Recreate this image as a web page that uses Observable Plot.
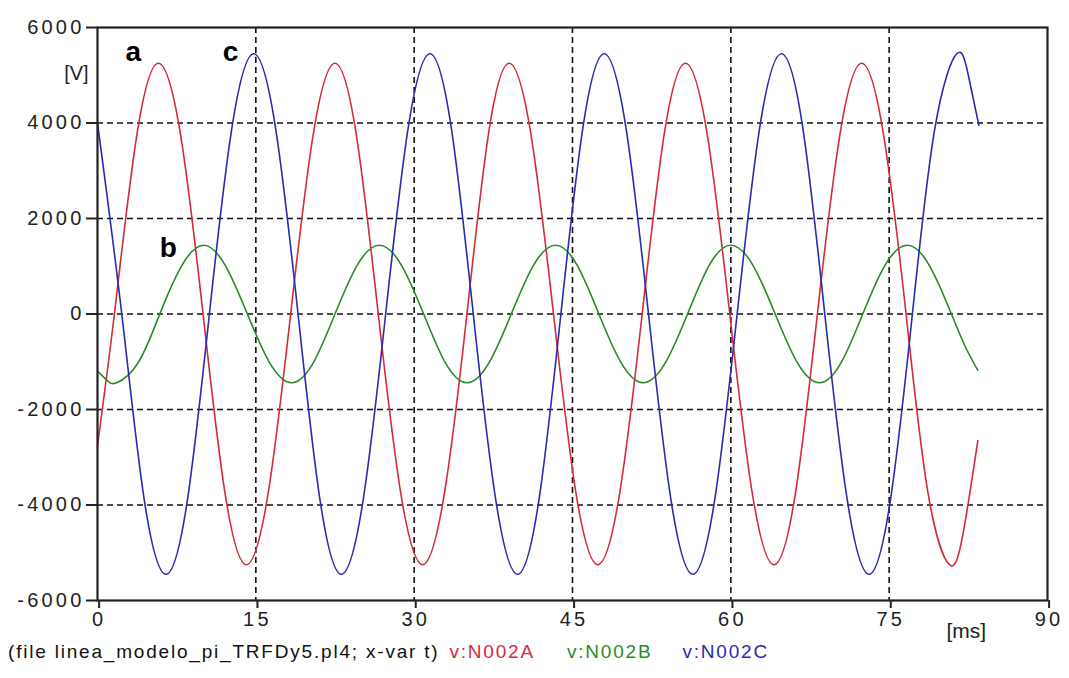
<!DOCTYPE html>
<html>
<head>
<meta charset="utf-8">
<script src="https://cdn.jsdelivr.net/npm/d3@7"></script>
<script src="https://cdn.jsdelivr.net/npm/@observablehq/plot@0.6"></script>
<style>
  body { margin: 0; background: #fff; }
  #chart svg { display: block; }
  #chart svg g[aria-label="y-axis tick label"] text,
  #chart svg g[aria-label="x-axis tick label"] text { letter-spacing: 3.2px; }
  #chart svg g[aria-label="text"] text.unit { letter-spacing: 1.5px; }
  #caption { font-family: "Liberation Sans", Arial, sans-serif; font-size: 19px; letter-spacing: 1.8px; padding-left: 8px; margin-top: -4px; white-space: pre; color: #111; }
</style>
</head>
<body>
<div id="chart"></div>
<div id="caption"><span>(file linea_modelo_pi_TRFDy5.pl4; x-var t)</span><span style="color:#d42a3a; margin-left:10px">v:N002A</span><span style="color:#2a8a2a; margin-left:32px">v:N002B</span><span style="color:#2a2ab0; margin-left:30px">v:N002C</span></div>
<script>
// time axis [ms] and voltage [V]
const xTicks = [0, 15, 30, 45, 60, 75, 90];
const yTicks = [-6000, -4000, -2000, 0, 2000, 4000, 6000];

// Series a: v:N002A (red) — read at start, crossings, mid-slopes, extrema, end
const tA = [0, 1.6, 3.7, 5.8, 7.9, 10.0, 12.05, 14.1, 16.2, 18.3, 20.4, 22.5, 24.55, 26.6, 28.7, 30.8, 32.9, 35.0, 37.0, 39.0, 41.1, 43.2, 45.3, 47.4, 49.5, 51.6, 53.65, 55.7, 57.8, 59.9, 62.0, 64.1, 66.15, 68.2, 70.3, 72.4, 74.5, 76.6, 78.65, 80.7, 82.0, 83.4];
const vA = [-2750, 0, 3710, 5250, 3710, 0, -3710, -5250, -3710, 0, 3710, 5250, 3710, 0, -3710, -5250, -3710, 0, 3710, 5250, 3710, 0, -3710, -5250, -3710, 0, 3710, 5250, 3710, 0, -3710, -5250, -3710, 0, 3710, 5250, 3710, 0, -3710, -5250, -4600, -2650];

// Series b: v:N002B (green)
const tB = [0, 0.9, 1.8, 3.85, 5.9, 8.0, 10.05, 12.1, 14.2, 16.3, 18.4, 20.45, 22.5, 24.6, 26.7, 28.8, 30.9, 32.95, 35.0, 37.1, 39.2, 41.3, 43.4, 45.45, 47.5, 49.6, 51.7, 53.8, 55.9, 57.95, 60.0, 62.1, 64.2, 66.3, 68.4, 70.45, 72.5, 74.6, 76.7, 78.8, 80.9, 82.2, 83.4];
const vB = [-1200, -1390, -1440, -1020, 0, 1020, 1440, 1020, 0, -1020, -1440, -1020, 0, 1020, 1440, 1020, 0, -1020, -1440, -1020, 0, 1020, 1440, 1020, 0, -1020, -1440, -1020, 0, 1020, 1440, 1020, 0, -1020, -1440, -1020, 0, 1020, 1440, 1020, 0, -680, -1180];

// Series c: v:N002C (blue)
const tC = [0, 2.3, 4.4, 6.5, 8.55, 10.6, 12.7, 14.8, 16.9, 19.0, 21.05, 23.1, 25.2, 27.3, 29.4, 31.5, 33.55, 35.6, 37.7, 39.8, 41.85, 43.9, 45.95, 48.0, 50.1, 52.2, 54.3, 56.4, 58.5, 60.6, 62.7, 64.8, 66.85, 68.9, 71.0, 73.1, 75.15, 77.2, 79.3, 81.4, 82.5, 83.5];
const vC = [4000, 0, -3850, -5450, -3850, 0, 3850, 5450, 3850, 0, -3850, -5450, -3850, 0, 3850, 5450, 3850, 0, -3850, -5450, -3850, 0, 3850, 5450, 3850, 0, -3850, -5450, -3850, 0, 3850, 5450, 3850, 0, -3850, -5450, -3850, 0, 3850, 5450, 5000, 3950];

// curve labels
const labelNames = ["a", "c", "b"];
const labelT = [3.4, 12.6, 6.7];
const labelV = [5480, 5480, 1380];

const colors = {A: "#d42a3a", B: "#2a8a2a", C: "#2a2ab0"};

const toRows = (t, v) => t.map((x, i) => ({t: x, v: v[i]}));
const rowsA = toRows(tA, vA);
const rowsB = toRows(tB, vB);
const rowsC = toRows(tC, vC);
const labels = labelNames.map((s, i) => ({s, t: labelT[i], v: labelV[i]}));

const chart = Plot.plot({
  width: 1069,
  height: 645,
  marginLeft: 97,
  marginRight: 22,
  marginTop: 27,
  marginBottom: 45,
  style: {fontFamily: "'Liberation Sans', Arial, sans-serif", fontSize: "20px", color: "#222", background: "#fff"},
  x: {domain: [0, 90], label: null},
  y: {domain: [-6000, 6000], label: null},
  marks: [
    Plot.gridY(yTicks.slice(1, -1), {stroke: "#111", strokeOpacity: 1, strokeWidth: 1.6, strokeDasharray: "6,4"}),
    Plot.gridX(xTicks.slice(1, -1), {stroke: "#111", strokeOpacity: 1, strokeWidth: 1.6, strokeDasharray: "6,4"}),
    Plot.line(rowsA, {x: "t", y: "v", stroke: colors.A, strokeWidth: 1.6, curve: "natural"}),
    Plot.line(rowsB, {x: "t", y: "v", stroke: colors.B, strokeWidth: 1.6, curve: "natural"}),
    Plot.line(rowsC, {x: "t", y: "v", stroke: colors.C, strokeWidth: 1.6, curve: "natural"}),
    Plot.frame({stroke: "#222", strokeWidth: 2.2}),
    Plot.axisX({ticks: xTicks, tickSize: 8, tickPadding: 3, dx: 1.6, tickFormat: d => String(d), fontSize: 20, stroke: "#222", strokeWidth: 2}),
    Plot.axisY({ticks: yTicks, tickSize: 11, tickPadding: 2, tickFormat: d => String(d), fontSize: 20, stroke: "#222", strokeWidth: 2}),
    Plot.text(labels, {x: "t", y: "v", text: "s", fontSize: 28, fontWeight: "bold", fill: "#000"}),
    Plot.text(["[V]"], {x: -2.0, y: 5040, fontSize: 20, fill: "#222", clip: false}),
    Plot.text(["[ms]"], {x: 82.3, y: -6640, fontSize: 21, fill: "#222", clip: false})
  ]
});
document.getElementById("chart").appendChild(chart);
</script>
</body>
</html>
